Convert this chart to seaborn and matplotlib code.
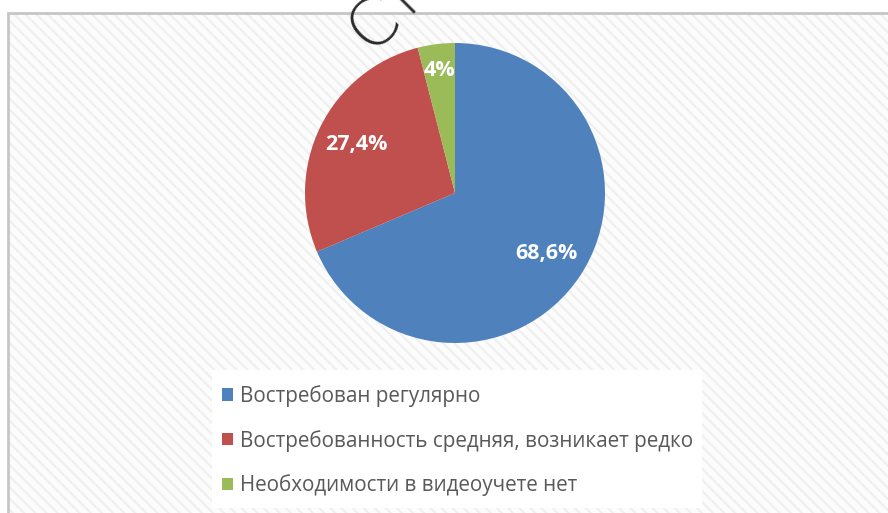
import matplotlib
matplotlib.use("Agg")
import matplotlib.pyplot as plt
from matplotlib.patches import Rectangle, Patch
import numpy as np
import seaborn as sns

# Survey answers and their shares (percent)
categories = [
    "Востребован регулярно",
    "Востребованность средняя, возникает редко",
    "Необходимости в видеоучете нет",
]
shares = [68.6, 27.4, 4.0]
share_labels = ["68,6%", "27,4%", "4%"]
palette = ["#4F81BD", "#C0504D", "#9BBB59"]

sns.set_theme(style="white")
plt.rcParams["font.family"] = ["Open Sans", "DejaVu Sans"]
plt.rcParams["hatch.linewidth"] = 1.5

W, H = 888, 513
fig = plt.figure(figsize=(W / 100, H / 100), dpi=100)
fig.patch.set_facecolor("white")


def fx(px):
    return px / W


def fy(py):
    return 1 - py / H


# hatched chart area with a grey border
area = Rectangle((fx(8), -0.01), 1.0, fy(13) + 0.01, transform=fig.transFigure,
                 facecolor="#fcfcfc", edgecolor="#efefef", hatch="\\\\\\",
                 linewidth=0, zorder=0)
fig.add_artist(area)
border = Rectangle((fx(8), -0.05), 1.0, fy(13) + 0.05, transform=fig.transFigure,
                   fill=False, edgecolor="#c6c6c6", linewidth=2, zorder=1)
fig.add_artist(border)

# pie
ax = fig.add_axes([fx(305), fy(343), 300 / W, 300 / H])
colors = sns.color_palette(palette)
ax.pie(shares, colors=colors, startangle=90, counterclock=False, radius=1,
       wedgeprops=dict(linewidth=0))
ax.set_xlim(-1, 1)
ax.set_ylim(-1, 1)
ax.axis("off")

vals = np.array(shares)
cum = np.concatenate([[0], np.cumsum(vals)[:-1]])
mid = np.deg2rad(90 - (cum + vals / 2) / vals.sum() * 360)
dist = [0.73, 0.73, 0.82]
for a, d, lab in zip(mid, dist, share_labels):
    ax.text(d * np.cos(a), d * np.sin(a), lab, ha="center", va="center",
            color="white", fontsize=15.5, fontweight="bold")

# legend panel
panel = Rectangle((fx(212), fy(508)), (702 - 212) / W, (508 - 370) / H,
                  transform=fig.transFigure, facecolor="white", edgecolor="none",
                  zorder=2)
fig.add_artist(panel)
handles = [Patch(facecolor=c, edgecolor="none") for c in colors]
leg = fig.legend(handles, categories, loc="upper left",
                 bbox_to_anchor=(fx(222), fy(385)), frameon=False,
                 fontsize=14.9, labelcolor="#595959", handlelength=0.54,
                 handleheight=0.54, handletextpad=0.34, labelspacing=1.10,
                 borderpad=0, borderaxespad=0)
leg.set_zorder(3)

# stamp in the top margin
fig.text(fx(358), fy(40), "Ст", rotation=45, rotation_mode="anchor",
         ha="left", va="center", fontsize=46, color="#2a2a2a",
         fontweight="light", family="DejaVu Sans", zorder=4)

fig.savefig("out.png", dpi=100)
